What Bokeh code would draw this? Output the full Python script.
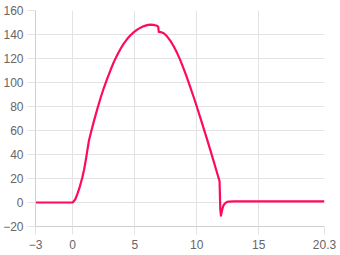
from bokeh.plotting import figure
from bokeh.models import FixedTicker, Range1d
from bokeh.embed import file_html
from bokeh.resources import INLINE

x_vals = [-3.0, -2.0, -1.0, 0.0, 0.2, 0.38, 0.58, 0.78, 0.92, 1.05, 1.18, 1.31, 1.5, 1.71, 2.0, 2.25, 2.5, 2.79,
          3.05, 3.32, 3.6, 3.86, 4.13, 4.4, 4.66, 4.93, 5.2, 5.47, 5.75, 6.0, 6.25, 6.5, 6.8, 6.9, 6.94, 7.1,
          7.34, 7.6, 7.88, 8.15, 8.41, 8.68, 8.95, 9.22, 9.49, 9.75, 10.02, 10.3, 10.55, 10.82, 11.09, 11.36,
          11.63, 11.84, 11.9, 11.95, 12.05, 12.15, 12.3, 12.45, 12.6, 13.0, 15.0, 18.0, 20.3]
y_vals = [0.0, 0.0, 0.0, 0.0, 2.5, 7.2, 13.5, 21.0, 27.5, 35.0, 43.5, 51.7, 59.5, 67.8, 78.5, 87.3, 95.2, 103.4,
          110.4, 117.2, 123.2, 128.1, 132.6, 136.4, 139.4, 142.0, 144.1, 145.7, 147.0, 147.8, 148.2, 148.0, 147.3, 146.2, 142.2, 142.0,
          141.0, 138.5, 134.7, 130.0, 124.7, 118.4, 111.4, 103.8, 95.8, 87.9, 79.4, 70.3, 62.0, 53.0, 43.8, 34.5,
          25.0, 17.7, -6.0, -11.0, -6.0, -2.5, -0.5, 0.5, 0.8, 1.0, 1.0, 1.0, 1.0]

x_ticks = [-3, 0, 5, 10, 15, 20.3]
y_ticks = [-20, 0, 20, 40, 60, 80, 100, 120, 140, 160]

p = figure(width=340, height=255, output_backend="svg", toolbar_location=None,
           x_range=Range1d(-3, 20.3), y_range=Range1d(-20, 160),
           min_border_left=35, min_border_right=16, min_border_top=10, min_border_bottom=29)
p.outline_line_color = None
p.background_fill_color = "white"

p.line(x_vals, y_vals, line_color="#ff0a5a", line_width=2.2, line_join="round")

grid_col = "#e3e3e3"
p.xaxis.ticker = FixedTicker(ticks=x_ticks)
p.yaxis.ticker = FixedTicker(ticks=y_ticks)
p.xaxis.major_label_overrides = {20.3: "20.3"}
p.xgrid.ticker = FixedTicker(ticks=x_ticks)
p.ygrid.ticker = FixedTicker(ticks=y_ticks)
p.xgrid.grid_line_color = grid_col
p.ygrid.grid_line_color = grid_col

for ax in (p.xaxis[0], p.yaxis[0]):
    ax.axis_line_color = "#cfcfcf"
    ax.major_tick_line_color = grid_col
    ax.major_tick_out = 8
    ax.major_tick_in = 0
    ax.minor_tick_line_color = None
    ax.major_label_text_color = "#666666"
    ax.major_label_text_font = "Liberation Sans"
    ax.major_label_text_font_size = "12px"

p.yaxis.major_label_standoff = 4
p.xaxis.major_label_standoff = 5

open("out.html", "w").write(file_html(p, INLINE))
